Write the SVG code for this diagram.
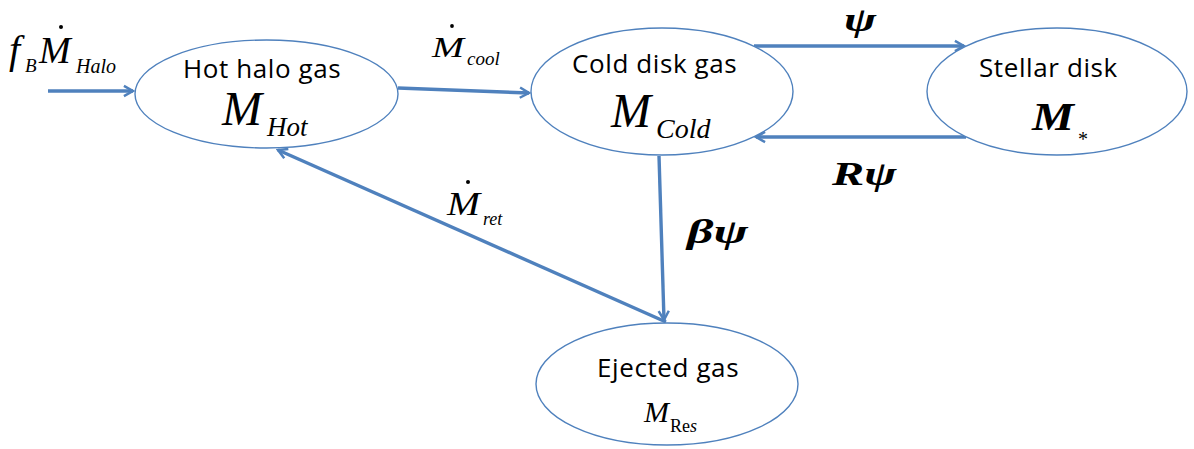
<svg xmlns="http://www.w3.org/2000/svg" width="1194" height="449" viewBox="0 0 1194 449">
<defs>
<marker id="ah" viewBox="0 0 12 12" refX="10" refY="6" markerWidth="4" markerHeight="4" orient="auto" markerUnits="strokeWidth">
<path d="M2,1.5 L10,6 L2,10.5" fill="none" stroke="#4F81BD" stroke-width="2.2" stroke-linejoin="miter"/>
</marker>
<style>
.node ellipse{fill:#fff;stroke:#4F81BD;stroke-width:1.4}
.lbl{font-family:'Open Sans','Liberation Sans',sans-serif;font-size:26px;letter-spacing:0.6px;fill:#000}
.m{font-family:'Liberation Serif','Times New Roman',serif;font-style:italic;fill:#000}
.up{font-family:'Liberation Serif','Times New Roman',serif;fill:#000}
.b{font-weight:bold}
.conn{stroke:#4F81BD;stroke-width:3.4;marker-end:url(#ah)}
</style>
</defs>
<rect width="1194" height="449" fill="#fff"/>

<g id="connectors">
<line class="conn" x1="48" y1="91" x2="133" y2="91"/>
<line class="conn" x1="398" y1="88" x2="529" y2="93"/>
<line class="conn" x1="754" y1="46" x2="964" y2="46"/>
<line class="conn" x1="966" y1="137" x2="756" y2="137"/>
<line class="conn" x1="659" y1="156" x2="664" y2="320"/>
<line class="conn" x1="666" y1="322" x2="278" y2="150"/>
</g>

<g id="hot" class="node">
<ellipse cx="266.5" cy="94" rx="131.5" ry="54"/>
<text class="lbl" x="183" y="78">Hot halo gas</text>
<text class="m" x="222" y="125" font-size="48">M</text>
<text class="m" x="267" y="136" font-size="27">Hot</text>
</g>

<g id="cold" class="node">
<ellipse cx="662" cy="91.5" rx="131" ry="63.5"/>
<text class="lbl" x="572" y="73">Cold disk gas</text>
<text class="m" x="611" y="127" font-size="48">M</text>
<text class="m" x="656" y="138" font-size="28">Cold</text>
</g>

<g id="stellar" class="node">
<ellipse cx="1057" cy="91.5" rx="130" ry="63.5"/>
<text class="lbl" x="979" y="77">Stellar disk</text>
<text class="m b" font-size="41" transform="translate(1032,130) scale(1.15,1)">M</text>
<text class="up" x="1078" y="146" font-size="20">*</text>
</g>

<g id="ejected" class="node">
<ellipse cx="667" cy="384" rx="131" ry="61"/>
<text class="lbl" x="597" y="377">Ejected gas</text>
<text class="m" x="644" y="422" font-size="30">M</text>
<text class="up" x="670" y="432" font-size="18">Re<tspan font-style="italic">s</tspan></text>
</g>

<g id="labels">
<text class="m" x="9" y="63" font-size="40">f</text>
<text class="m" x="25" y="72" font-size="19">B</text>
<text class="m" x="39" y="63" font-size="38">M</text>
<circle cx="61" cy="27" r="2" fill="#000"/>
<text class="m" x="76" y="73" font-size="20">Halo</text>

<text class="m" font-size="30" transform="translate(432,57) scale(1.28,1)">M</text>
<circle cx="452" cy="26" r="1.9" fill="#000"/>
<text class="m" x="467" y="65" font-size="19">cool</text>

<text class="m" font-size="33" transform="translate(447,215) scale(1.2,1)">M</text>
<circle cx="468" cy="182" r="2" fill="#000"/>
<text class="m" x="483" y="225" font-size="18">ret</text>

<text class="m b" font-size="34" transform="translate(844,31) scale(1.42,1)">ψ</text>
<text class="m b" font-size="34" transform="translate(832,185) scale(1.42,1)">Rψ</text>
<text class="m b" font-size="34" transform="translate(687,243) scale(1.52,1)">βψ</text>
</g>
</svg>
